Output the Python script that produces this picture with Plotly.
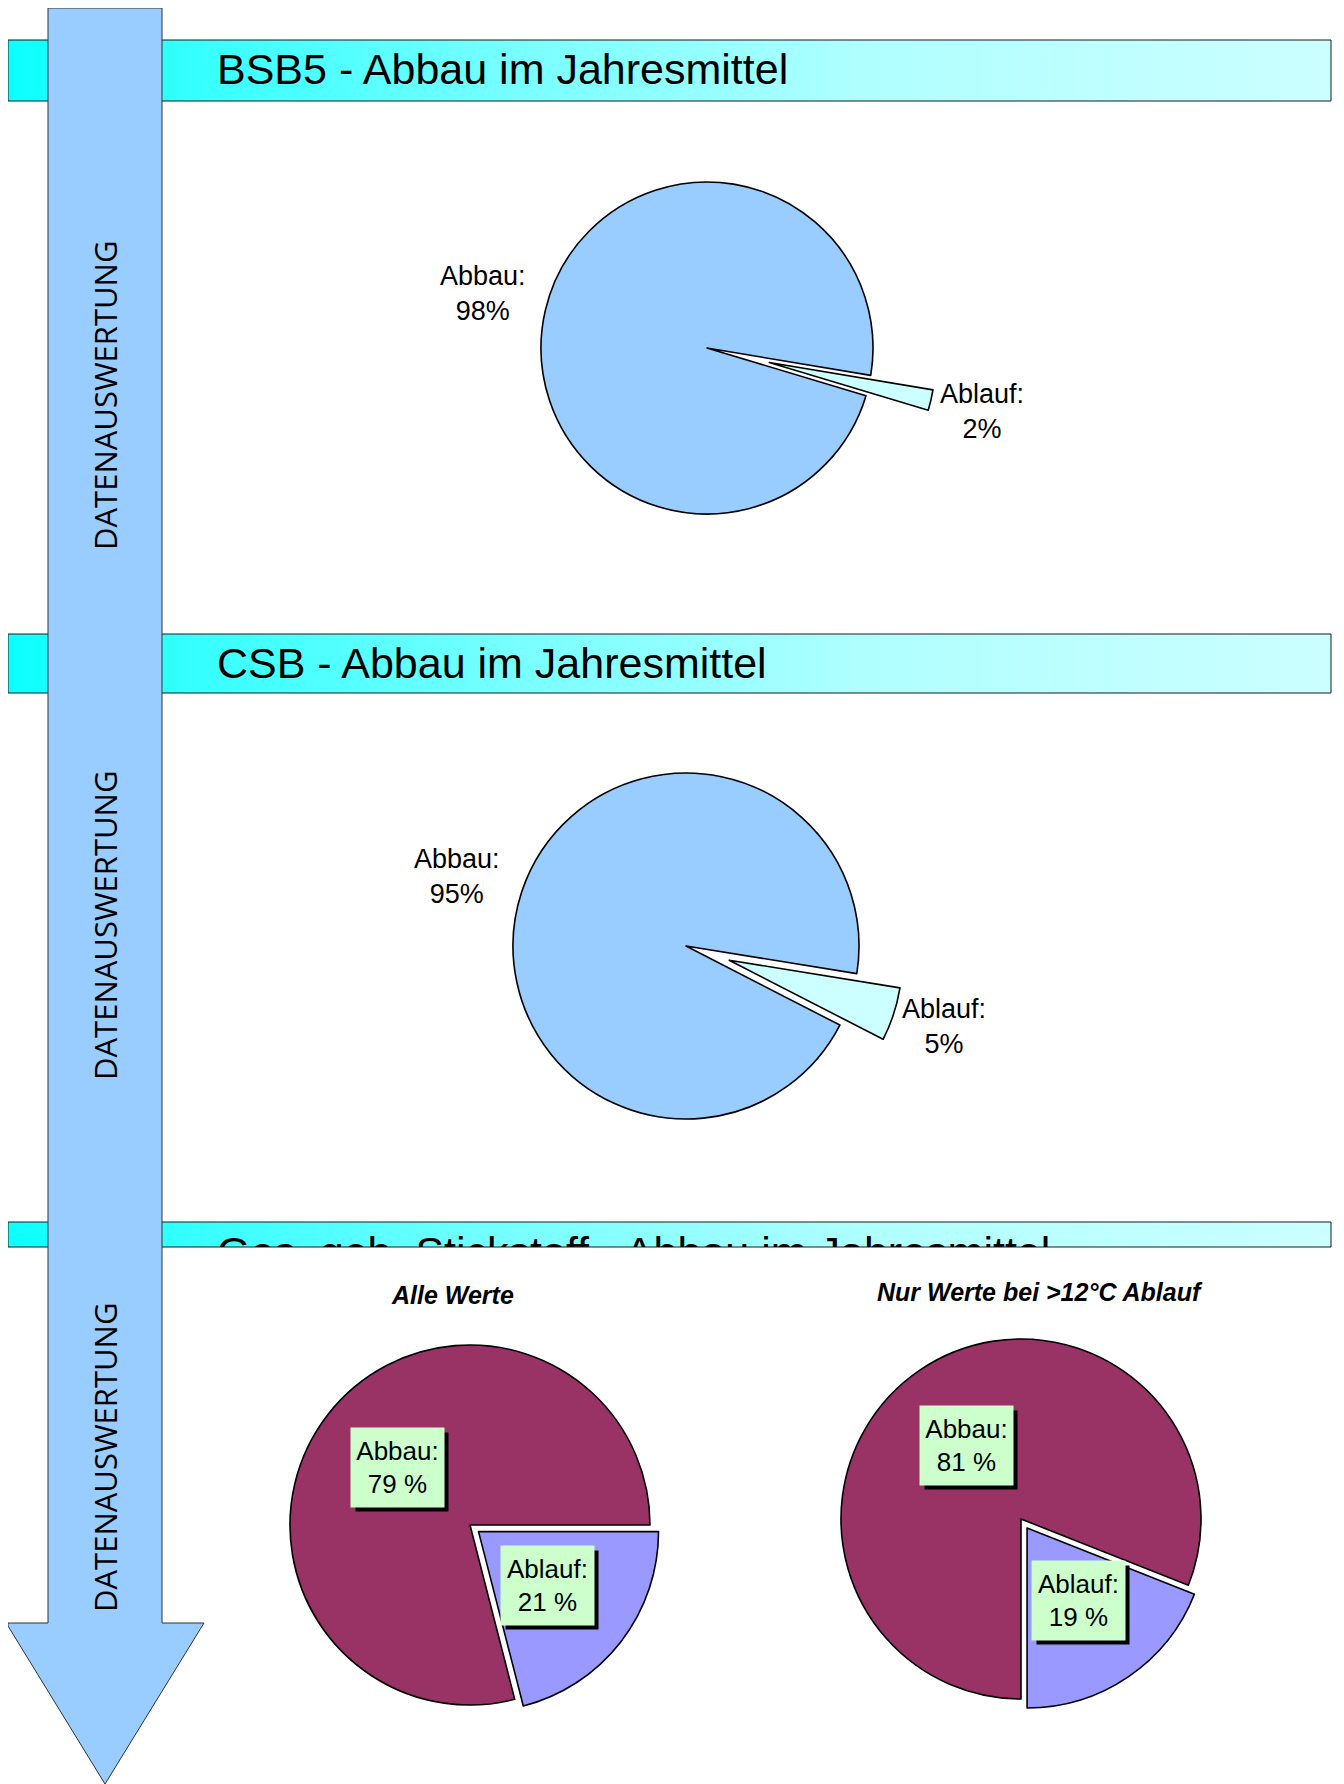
import plotly.graph_objects as go

# page pixels are used for positions; the html body adds an 8 px margin
OFF = 8
W, H = 1344 - OFF, 1784 - OFF

# data (shares in percent)
slice_names = ["Ablauf", "Abbau"]
bsb5_share = [2, 98]
csb_share = [5, 95]
tn_all_share = [21, 79]
tn_warm_share = [19, 81]

banner_titles = [
    "BSB5 - Abbau im Jahresmittel",
    "CSB - Abbau im Jahresmittel",
    "Ges. geb. Stickstoff - Abbau im Jahresmittel",
]
panel_titles = ["Alle Werte", "Nur Werte bei >12°C Ablauf"]
side_label = "DATENAUSWERTUNG"

TEXT_FONT = "Liberation Sans, Arial, sans-serif"


def paper_x(px):
    return min(max((px - OFF) / W, 0), 1)


def paper_y(py):
    return min(max(1 - (py - OFF) / H, 0), 1)


def pie_domain(cx, cy, r, pull):
    # plotly shrinks the radius by (1 + max pull) inside the domain box
    half = r * (1 + pull)
    return dict(x=[paper_x(cx - half), paper_x(cx + half)],
                y=[paper_y(cy + half), paper_y(cy - half)])


fig = go.Figure()

# banners with horizontal gradient
banner_rows = [(40, 101), (634, 693), (1222, 1247)]
banner_scale = [[0, "#0CFFFF"], [0.16, "#3CFFFF"], [0.39, "#7AFFFF"],
                [0.65, "#B0FFFF"], [1, "#CCFFFF"]]
for y0, y1 in banner_rows:
    fig.add_trace(go.Scatter(
        x=[8, 1331, 1331, 8, 8], y=[y0, y0, y1, y1, y0],
        mode="lines", fill="toself",
        fillgradient=dict(type="horizontal", colorscale=banner_scale),
        line=dict(color="#1a1a1a", width=1),
        hoverinfo="skip", showlegend=False,
    ))

# banner titles (first two in the main frame, third clipped by its own frame)
title_font = dict(family=TEXT_FONT, size=43, color="black")
fig.add_trace(go.Scatter(
    x=[217, 217], y=[73, 667], text=banner_titles[:2],
    mode="text", textposition="middle right", textfont=title_font,
    hoverinfo="skip", showlegend=False,
))
fig.add_trace(go.Scatter(
    x=[217], y=[1256], text=banner_titles[2:],
    mode="text", textposition="middle right", textfont=title_font,
    cliponaxis=True, xaxis="x2", yaxis="y2",
    hoverinfo="skip", showlegend=False,
))

# pies
pies = [
    (bsb5_share, (707, 348, 166), 0.385, 99.5, ["#CCFFFF", "#99CCFF"]),
    (csb_share, (686, 946, 173), 0.263, 99.2, ["#CCFFFF", "#99CCFF"]),
    (tn_all_share, (470, 1525, 180), 0.06, 90, ["#9999FF", "#993366"]),
    (tn_warm_share, (1021, 1519, 180), 0.06, 111.6, ["#9999FF", "#993366"]),
]
for values, (cx, cy, r), pull, rot, colors in pies:
    fig.add_trace(go.Pie(
        labels=slice_names, values=values, sort=False,
        direction="clockwise", rotation=rot, pull=[pull, 0],
        domain=pie_domain(cx, cy, r, pull),
        marker=dict(colors=colors, line=dict(color="black", width=1.6)),
        textinfo="none", hoverinfo="label+percent", showlegend=False,
    ))

annotations = []
shapes = []

# side labels on the arrow
for yc in (396, 926, 1458):
    annotations.append(dict(
        x=105, y=yc, xref="x", yref="y", text=side_label, textangle=-90,
        showarrow=False, font=dict(family="Open Sans", size=31, color="black"),
    ))

# outside labels of the first two pies
label_font = dict(family=TEXT_FONT, size=27, color="black")
plain_labels = [
    (483, 293, f"{slice_names[1]}:<br>{bsb5_share[1]}%"),
    (982, 411, f"{slice_names[0]}:<br>{bsb5_share[0]}%"),
    (457, 876, f"{slice_names[1]}:<br>{csb_share[1]}%"),
    (944, 1026, f"{slice_names[0]}:<br>{csb_share[0]}%"),
]
for x, y, txt in plain_labels:
    annotations.append(dict(x=x, y=y, xref="x", yref="y", text=txt,
                            showarrow=False, align="center", font=label_font))

# boxed labels with drop shadow for the nitrogen pies
box_font = dict(family=TEXT_FONT, size=26, color="black")
boxed_labels = [
    (397, 1467, f"{slice_names[1]}:<br>{tn_all_share[1]} %"),
    (547, 1585, f"{slice_names[0]}:<br>{tn_all_share[0]} %"),
    (966, 1445, f"{slice_names[1]}:<br>{tn_warm_share[1]} %"),
    (1078, 1600, f"{slice_names[0]}:<br>{tn_warm_share[0]} %"),
]
bw, bh, sh = 93, 79, 5
for x, y, txt in boxed_labels:
    shapes.append(dict(type="rect", xref="x", yref="y",
                       x0=x - bw / 2 + sh, x1=x + bw / 2 + sh,
                       y0=y - bh / 2 + sh, y1=y + bh / 2 + sh,
                       fillcolor="black", line=dict(width=0), layer="above"))
    annotations.append(dict(x=x, y=y, xref="x", yref="y", showarrow=False,
                            align="center", width=bw - 2, height=bh - 2,
                            borderpad=1, text=txt, bgcolor="#CCFFCC",
                            font=box_font))

# panel titles
sub_font = dict(family=TEXT_FONT, size=25, color="black", weight="bold", style="italic")
for (x, y), txt in zip([(452, 1295), (1040, 1292)], panel_titles):
    annotations.append(dict(x=x, y=y, xref="x", yref="y", text=txt,
                            showarrow=False, font=sub_font))

# big arrow on the left
arrow_path = "M48,8 L162,8 L162,1623 L204,1623 L105,1784 L8,1626 L8,1623 L48,1623 Z"
shapes.insert(0, dict(type="path", path=arrow_path, xref="x", yref="y",
                      fillcolor="#99CCFF", line=dict(color="#333333", width=1),
                      layer="above"))

fig.update_layout(
    width=W, height=H,
    margin=dict(l=0, r=0, t=0, b=0),
    paper_bgcolor="white", plot_bgcolor="rgba(0,0,0,0)",
    xaxis=dict(range=[OFF, OFF + W], domain=[0, 1], visible=False, fixedrange=True),
    yaxis=dict(range=[OFF + H, OFF], domain=[0, 1], visible=False, fixedrange=True),
    xaxis2=dict(range=[OFF, 1331], domain=[paper_x(OFF), paper_x(1331)], anchor="y2",
                visible=False, fixedrange=True),
    yaxis2=dict(range=[1247, 1222], domain=[paper_y(1247), paper_y(1222)],
                anchor="x2", visible=False, fixedrange=True),
    shapes=shapes,
    annotations=annotations,
    showlegend=False,
)

fig.write_html("out.html")
